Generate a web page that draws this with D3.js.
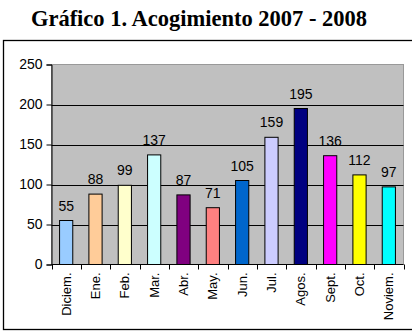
<!DOCTYPE html>
<html>
<head>
<meta charset="utf-8">
<script src="https://cdn.jsdelivr.net/npm/d3@7"></script>
<style>
  body { margin: 0; background: #fff; }
  svg { display: block; font-family: "Liberation Sans", Arial, sans-serif; }
</style>
</head>
<body>
<div id="chart"></div>
<script>
// datos del gráfico
const months = ["Diciem.", "Ene.", "Feb.", "Mar.", "Abr.", "May.", "Jun.", "Jul.", "Agos.", "Sept.", "Oct.", "Noviem."];
const values = [55, 88, 99, 137, 87, 71, 105, 159, 195, 136, 112, 97];
const barColors = ["#99CCFF", "#FFCC99", "#FFFFCC", "#CCFFFF", "#800080", "#FF8080",
                   "#0066CC", "#CCCCFF", "#000080", "#FF00FF", "#FFFF00", "#00FFFF"];
const yTicks = [0, 50, 100, 150, 200, 250];

const W = 412, H = 332;
const plot = { left: 51.5, right: 403.5, top: 64.5, bottom: 264.5 };

const svg = d3.select("#chart").append("svg")
    .attr("width", W)
    .attr("height", H);

// título
svg.append("text")
    .attr("x", 199)
    .attr("y", 26)
    .attr("text-anchor", "middle")
    .style("font-family", "'Liberation Serif', 'Times New Roman', serif")
    .style("font-size", "22.5px")
    .style("font-weight", "bold")
    .text("Gráfico 1. Acogimiento 2007 - 2008");

// marco exterior
svg.append("rect")
    .attr("x", 3.5)
    .attr("y", 40.5)
    .attr("width", 420)
    .attr("height", 289)
    .attr("fill", "none")
    .attr("stroke", "#000")
    .attr("stroke-width", 1.3);

const x = d3.scaleBand()
    .domain(months)
    .range([plot.left, plot.right])
    .paddingInner(0.55)
    .paddingOuter(0.275);

const xb = d3.scaleBand()
    .domain(months)
    .range([plot.left, plot.right]);

const y = d3.scaleLinear()
    .domain([0, 250])
    .range([plot.bottom, plot.top]);

// fondo gris del área de trazado
svg.append("rect")
    .attr("x", plot.left)
    .attr("y", plot.top)
    .attr("width", plot.right - plot.left)
    .attr("height", plot.bottom - plot.top)
    .attr("fill", "#C0C0C0")
    .attr("stroke", "#999")
    .attr("stroke-width", 1);

// líneas de cuadrícula
svg.append("g")
    .selectAll("line")
    .data(yTicks.filter(d => d > 0 && d < 250))
    .join("line")
    .attr("x1", plot.left)
    .attr("x2", plot.right)
    .attr("y1", d => Math.round(y(d)) + 0.5)
    .attr("y2", d => Math.round(y(d)) + 0.5)
    .attr("stroke", "#000")
    .attr("stroke-width", 1);

// eje Y
const yAxis = svg.append("g")
    .attr("transform", `translate(${plot.left},0)`)
    .call(d3.axisLeft(y).tickValues(yTicks).tickSize(5).tickPadding(4));
yAxis.select(".domain").attr("stroke", "#000");
yAxis.selectAll("text")
    .style("font-size", "14px")
    .style("fill", "#000");

// barras
svg.append("g")
    .selectAll("rect")
    .data(values)
    .join("rect")
    .attr("x", (d, i) => x(months[i]))
    .attr("y", d => y(d))
    .attr("width", x.bandwidth())
    .attr("height", d => y(0) - y(d))
    .attr("fill", (d, i) => barColors[i])
    .attr("stroke", "#000")
    .attr("stroke-width", 1);

// etiquetas de valor
svg.append("g")
    .selectAll("text")
    .data(values)
    .join("text")
    .attr("x", (d, i) => x(months[i]) + x.bandwidth() / 2)
    .attr("y", d => y(d) - 10)
    .attr("text-anchor", "middle")
    .style("font-size", "14px")
    .text(d => d);

// eje X
const xAxisG = svg.append("g")
    .attr("transform", `translate(0,${plot.bottom})`);
xAxisG.append("line")
    .attr("x1", plot.left)
    .attr("x2", plot.right)
    .attr("stroke", "#000");
xAxisG.selectAll(".tick-mark")
    .data(months.concat(["_end"]))
    .join("line")
    .attr("class", "tick-mark")
    .attr("x1", (d, i) => Math.round(plot.left + i * xb.bandwidth()) + 0.5)
    .attr("x2", (d, i) => Math.round(plot.left + i * xb.bandwidth()) + 0.5)
    .attr("y1", 0)
    .attr("y2", 5)
    .attr("stroke", "#000");

xAxisG.selectAll(".mlabel")
    .data(months)
    .join("text")
    .attr("class", "mlabel")
    .attr("transform", d => `translate(${xb(d) + xb.bandwidth() / 2 + 4.5},8) rotate(-90)`)
    .attr("text-anchor", "end")
    .style("font-size", "13px")
    .text(d => d);
</script>
</body>
</html>
